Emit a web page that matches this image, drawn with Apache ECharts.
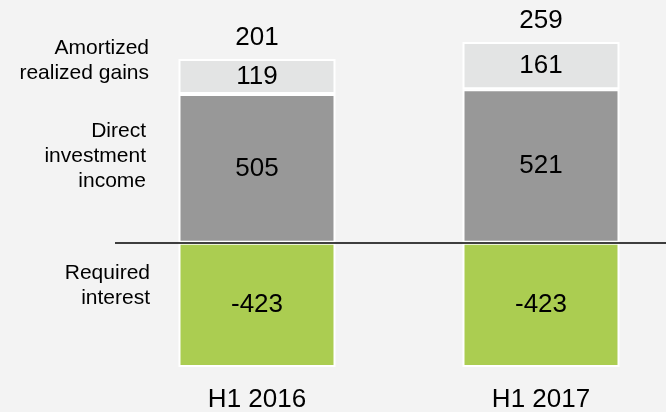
<!DOCTYPE html>
<html>
<head>
<meta charset="utf-8">
<script src="https://cdn.jsdelivr.net/npm/echarts@6/dist/echarts.min.js"></script>
<style>
  html, body { margin: 0; padding: 0; background: #f3f3f3; }
  #chart { width: 666px; height: 412px; }
</style>
</head>
<body>
<div id="chart"></div>
<script>
var categories = ['H1 2016', 'H1 2017'];
var requiredInterest = [-423, -423];
var directIncome = [505, 521];
var amortizedGains = [119, 161];
var netTotals = [201, 259];

var FONT = '"Liberation Sans", Arial, sans-serif';

var myChart = echarts.init(document.getElementById('chart'));

// where the total labels sit: on top of the positive stack
var stackTops = categories.map(function (c, i) {
    return [c, directIncome[i] + amortizedGains[i]];
});

function barSeries(name, data, color) {
    return {
        name: name,
        type: 'bar',
        stack: 'all',
        barWidth: 157,
        data: data,
        itemStyle: { color: color, borderColor: '#ffffff', borderWidth: 2 },
        label: {
            show: true,
            position: 'inside',
            color: '#000',
            fontSize: 26,
            fontFamily: FONT
        },
        silent: true
    };
}

var green = barSeries('Required interest', requiredInterest, '#abcd51');
green.markLine = {
    silent: true,
    symbol: 'none',
    label: { show: false },
    lineStyle: { color: '#000', width: 1.6, type: 'solid' },
    data: [{ yAxis: 0 }]
};

function sideLabel(text, x, y) {
    return {
        type: 'text',
        x: x,
        y: y,
        silent: true,
        style: {
            text: text,
            fill: '#000',
            font: '21px ' + FONT,
            align: 'right',
            verticalAlign: 'middle',
            lineHeight: 25
        }
    };
}

var option = {
    backgroundColor: '#f3f3f3',
    animation: false,
    grid: { left: 115, width: 568, top: 22, bottom: 37, outerBoundsMode: 'none', containLabel: false },
    xAxis: {
        type: 'category',
        data: categories,
        axisLine: { show: false, onZero: false },
        axisTick: { show: false },
        axisLabel: { color: '#000', fontSize: 26, fontFamily: FONT, margin: 12 }
    },
    yAxis: {
        type: 'value',
        min: -450,
        max: 750,
        show: false,
        splitLine: { show: false }
    },
    series: [
        green,
        barSeries('Direct investment income', directIncome, '#989898'),
        barSeries('Amortized realized gains', amortizedGains, '#e3e4e4'),
        {
            type: 'scatter',
            symbolSize: 0,
            data: stackTops,
            silent: true,
            itemStyle: { opacity: 1 },
            label: {
                show: true,
                position: 'top',
                distance: 8,
                color: '#000',
                fontSize: 26,
                fontFamily: FONT,
                formatter: function (p) { return netTotals[p.dataIndex]; }
            }
        }
    ],
    graphic: [
        sideLabel('Amortized\nrealized gains', 149, 61),
        sideLabel('Direct\ninvestment\nincome', 146, 156),
        sideLabel('Required\ninterest', 150, 286)
    ]
};

myChart.setOption(option);
</script>
</body>
</html>
